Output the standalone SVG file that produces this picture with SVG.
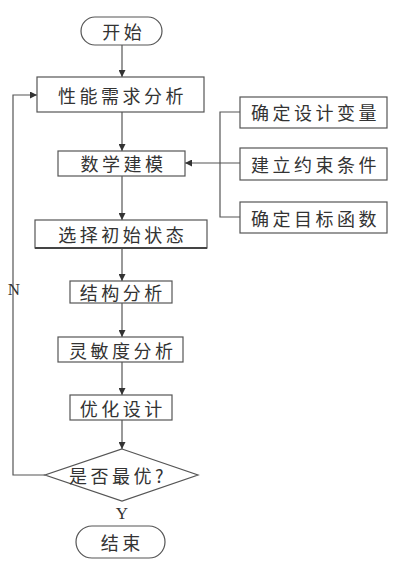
<svg xmlns="http://www.w3.org/2000/svg" width="400" height="565" viewBox="0 0 400 565">
<style>
.box{fill:#fff;stroke:#555;stroke-width:1.2}
.t{font-family:"Noto Sans CJK SC","Noto Sans",sans-serif;font-size:18px;fill:#333;text-anchor:middle;dominant-baseline:central;letter-spacing:3.5px}
.l{font-family:"Liberation Serif",serif;font-size:17px;fill:#333;text-anchor:middle;dominant-baseline:central}
.c{fill:none;stroke:#555;stroke-width:1.2}
</style>
<defs>
<marker id="a" viewBox="0 0 10 10" refX="10" refY="5" markerWidth="7" markerHeight="7" markerUnits="userSpaceOnUse" orient="auto">
<path d="M0,0 L10,5 L0,10 z" fill="#333"/>
</marker>
</defs>
<rect width="400" height="565" fill="#fff"/>
<g id="connectors">
<path class="c" d="M122,45 V77" marker-end="url(#a)"/>
<path class="c" d="M122,112 V151" marker-end="url(#a)"/>
<path class="c" d="M122,176 V220" marker-end="url(#a)"/>
<path class="c" d="M122,248 V281" marker-end="url(#a)"/>
<path class="c" d="M122,303 V337" marker-end="url(#a)"/>
<path class="c" d="M122,362 V395" marker-end="url(#a)"/>
<path class="c" d="M122,420 V449" marker-end="url(#a)"/>
<path class="c" d="M240,112 H220 V217 H240"/>
<path class="c" d="M240,163 H185" marker-end="url(#a)"/>
<path class="c" d="M45,475 H13 V95 H37" marker-end="url(#a)"/>
</g>
<g id="start"><rect class="box" x="81" y="17" width="81" height="28" rx="14"/><text class="t" x="123.7" y="31">开始</text></g>
<g id="n1"><rect class="box" x="37" y="77" width="167" height="35"/><text class="t" x="122.5" y="95">性能需求分析</text></g>
<g id="r1"><rect class="box" x="240" y="97" width="147" height="31"/><text class="t" x="315.5" y="112">确定设计变量</text></g>
<g id="r2"><rect class="box" x="240" y="148" width="147" height="32"/><text class="t" x="315.5" y="164">建立约束条件</text></g>
<g id="r3"><rect class="box" x="240" y="202" width="147" height="31"/><text class="t" x="315.5" y="218">确定目标函数</text></g>
<g id="n2"><rect class="box" x="58" y="151" width="127" height="25"/><text class="t" x="123.5" y="163">数学建模</text></g>
<g id="n3"><rect class="box" x="35" y="220" width="172" height="28"/><line x1="35" y1="248" x2="207" y2="248" stroke="#444" stroke-width="2"/><text class="t" x="122.7" y="234">选择初始状态</text></g>
<g id="n4"><rect class="box" x="70" y="281" width="102" height="22"/><text class="t" x="122.7" y="292">结构分析</text></g>
<g id="n5"><rect class="box" x="58" y="337" width="125" height="25"/><text class="t" x="122.7" y="349.5">灵敏度分析</text></g>
<g id="n6"><rect class="box" x="70" y="395" width="102" height="25"/><text class="t" x="122.7" y="407.5">优化设计</text></g>
<g id="d1"><polygon class="box" points="122,449 198,475 122,501 45,475"/><text class="t" x="118" y="475">是否最优?</text></g>
<g id="end"><rect class="box" x="76" y="526" width="89" height="32" rx="16"/><text class="t" x="122.2" y="542">结束</text></g>
<text class="l" x="14" y="289">N</text>
<text class="l" x="122" y="513">Y</text>
</svg>
